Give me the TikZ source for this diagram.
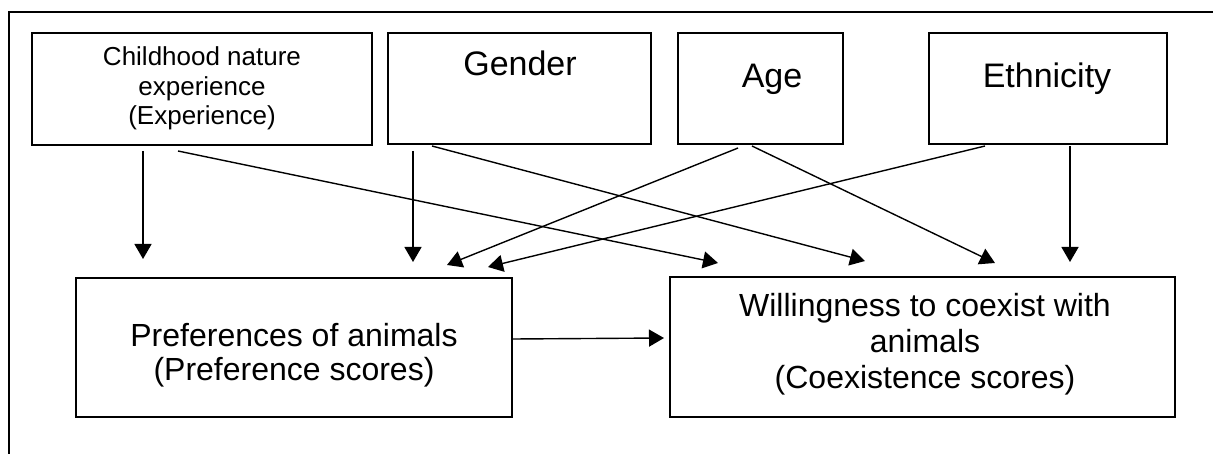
\documentclass[tikz,border=0pt]{standalone}
\usepackage{fontspec}
\setmainfont{Liberation Sans}
\usetikzlibrary{arrows.meta}
\begin{document}
\begin{tikzpicture}[x=1pt,y=-1pt,
  box/.style={draw, line width=2.2pt, inner sep=0pt},
  lbl/.style={inner sep=0pt, align=center, anchor=base},
  arr/.style={line width=1.4pt, -{Triangle[length=15pt,width=17pt]}},
  frame/.style={line width=1.4pt}]
\useasboundingbox (0,0) rectangle (1213,454);
% outer frame
\coordinate (fb) at (9,454);
\coordinate (fc) at (9,12);
\coordinate (fr) at (1213,12);
\draw[frame] (fb) -- (fc) -- (fr);
% boxes
\node[box, minimum width=340pt, minimum height=112pt] (exp) at (202,89) {};
\node[box, minimum width=263pt, minimum height=111pt] (gen) at (519.5,88.5) {};
\node[box, minimum width=165pt, minimum height=111pt] (age) at (760.5,88.5) {};
\node[box, minimum width=238pt, minimum height=111pt] (eth) at (1048,88.5) {};
\node[box, minimum width=436pt, minimum height=139pt] (pref) at (294,347.5) {};
\node[box, minimum width=505pt, minimum height=140pt] (will) at (922.5,347) {};
% labels (base = baseline of last line)
\node[lbl, font=\fontsize{26}{29.5}\selectfont] (expt) at (202,125) {Childhood nature\\experience\\(Experience)};
\node[lbl, font=\fontsize{34}{40}\selectfont] (gent) at (520,76) {Gender};
\node[lbl, font=\fontsize{34}{40}\selectfont] (aget) at (772,88) {Age};
\node[lbl, font=\fontsize{34}{40}\selectfont] (etht) at (1047,88) {Ethnicity};
\node[lbl, font=\fontsize{32}{34.5}\selectfont] (preft) at (294,381) {Preferences of animals\\(Preference scores)};
\node[lbl, font=\fontsize{32}{35.5}\selectfont] (willt) at (925,388) {Willingness to coexist with\\animals\\(Coexistence scores)};
% connector end points
\coordinate (s1) at (143,151);  \coordinate (t1) at (143,259);
\coordinate (s2) at (178,151);  \coordinate (t2) at (718,263);
\coordinate (s3) at (413,151);  \coordinate (t3) at (413,262);
\coordinate (s4) at (432,146);  \coordinate (t4) at (865,261);
\coordinate (s5) at (738,148);  \coordinate (t5) at (447,265);
\coordinate (s6) at (752,146);  \coordinate (t6) at (995,263);
\coordinate (s7) at (985,146);  \coordinate (t7) at (488,267);
\coordinate (s8) at (1070,146); \coordinate (t8) at (1070,262);
\coordinate (s9) at ([yshift=8.5pt]pref.east); \coordinate (t9) at (664,338);
\draw[arr] (s1) -- (t1);
\draw[arr] (s2) -- (t2);
\draw[arr] (s3) -- (t3);
\draw[arr] (s4) -- (t4);
\draw[arr] (s5) -- (t5);
\draw[arr] (s6) -- (t6);
\draw[arr] (s7) -- (t7);
\draw[arr] (s8) -- (t8);
\draw[arr] (s9) -- (t9);
\end{tikzpicture}
\end{document}
